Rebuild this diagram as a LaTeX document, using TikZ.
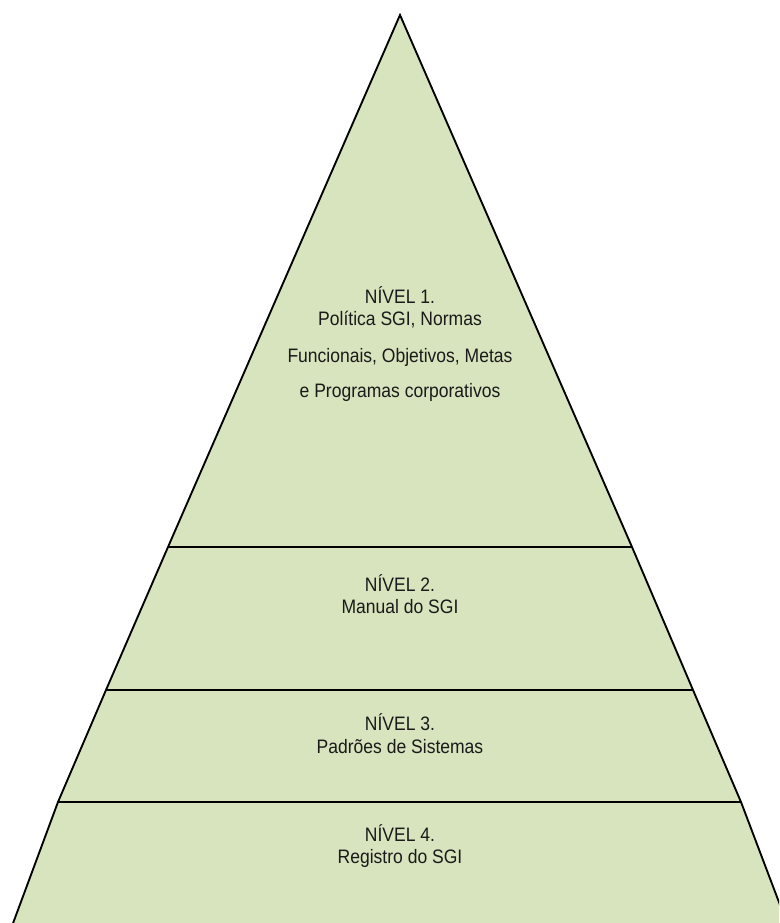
\documentclass[tikz,border=0pt]{standalone}
\usepackage{fontspec}
\setmainfont{Liberation Sans}[FakeStretch=0.9]
\definecolor{pyrfill}{HTML}{D7E4BD}
\definecolor{pyrtext}{HTML}{1A1A1A}
\tikzset{
  pyrline/.style={draw=black, line width=1.4pt, line join=miter},
  lvltext/.style={font=\fontsize{14.6pt}{16pt}\selectfont, text=pyrtext, inner sep=0pt, anchor=center}
}
\begin{document}
\begin{tikzpicture}[x=0.75pt, y=-0.75pt]
  \useasboundingbox (0,0) rectangle (779,923);
  \begin{scope}
    \clip (0,0) rectangle (779,923);
    % pyramid outline and fill
    \coordinate (apex) at (400,15);
    \coordinate (l1) at (168,547);  \coordinate (r1) at (632,547);
    \coordinate (l2) at (106,690);  \coordinate (r2) at (693,690);
    \coordinate (l3) at (58,802);   \coordinate (r3) at (741,802);
    \coordinate (l4) at (12,926);   \coordinate (r4) at (788,926);
    \fill[pyrfill] (apex) -- (l1) -- (l2) -- (l3) -- (l4) -- (r4) -- (r3) -- (r2) -- (r1) -- cycle;
    \draw[pyrline] (l4) -- (l3) -- (l2) -- (l1) -- (apex) -- (r1) -- (r2) -- (r3) -- (r4);
    % level dividers
    \draw[pyrline] (l1) -- (r1);
    \draw[pyrline] (l2) -- (r2);
    \draw[pyrline] (l3) -- (r3);
  \end{scope}
  % level 1
  \node[lvltext] (n1a) at (400,295) {NÍVEL 1.};
  \node[lvltext] (n1b) at (400,320) {Política SGI, Normas};
  \node[lvltext] (n1c) at (400,357) {Funcionais, Objetivos, Metas};
  \node[lvltext] (n1d) at (400,392) {e Programas corporativos};
  % level 2
  \node[lvltext] (n2a) at (400,583) {NÍVEL 2.};
  \node[lvltext] (n2b) at (400,607) {Manual do SGI};
  % level 3
  \node[lvltext] (n3a) at (400,722) {NÍVEL 3.};
  \node[lvltext] (n3b) at (400,747) {Padrões de Sistemas};
  % level 4
  \node[lvltext] (n4a) at (400,833) {NÍVEL 4.};
  \node[lvltext] (n4b) at (400,858) {Registro do SGI};
\end{tikzpicture}
\end{document}
